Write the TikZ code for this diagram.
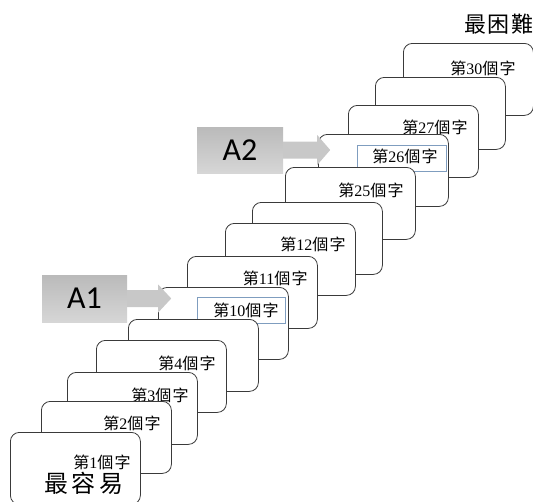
\documentclass[tikz,border=0pt]{standalone}
\usepackage{fontspec}
\setmainfont{Liberation Serif}
\newfontfamily\cjk[LetterSpace=8]{Noto Sans CJK TC}
\newfontfamily\cjkplain{Noto Sans CJK TC}
\newfontfamily\carl{Carlito}
\newcommand\lbl[1]{{\cjk 第}#1{\cjk 個字}}
\definecolor{cardline}{HTML}{3A3A3A}
\definecolor{frameblue}{HTML}{7F9DBF}
\definecolor{arrowgray}{HTML}{C8C8C8}
\begin{document}
\begin{tikzpicture}[x=1pt,y=-1pt,
  card/.style={draw=cardline, line width=0.8pt, rounded corners=9pt, fill=white,
    minimum width=130pt, minimum height=72pt, inner sep=0pt, anchor=north west},
  lab/.style={anchor=east, font=\fontsize{16}{16}\selectfont, inner sep=0pt},
  labframe/.style={draw=frameblue, line width=0.7pt, fill=white, anchor=north east,
    minimum height=26pt, inner sep=0pt},
  abox/.style={top color=black!27, bottom color=black!16, draw=none,
    minimum width=86pt, minimum height=46pt, inner sep=0pt,
    font=\carl\fontsize{32}{32}\selectfont},
  big/.style={font=\cjkplain\fontsize{22}{22}\selectfont, inner sep=0pt}]
\useasboundingbox (0,0) rectangle (533,501);
\clip (0,0) rectangle (533,501);
% cards, back to front
\node[card] (c30) at (403,43) {};
\node[lab] (t30) at ([xshift=-18pt,yshift=-25pt]c30.north east) {\lbl{30}};
\node[card] (cb3) at (375,77) {};
\node[card] (c27) at (348,105) {};
\node[lab] (t27) at ([xshift=-11pt,yshift=-22pt]c27.north east) {\lbl{27}};
\node[card] (c26) at (318,134) {};
\node[labframe, minimum width=89pt] (f26) at ([xshift=-2pt,yshift=-11pt]c26.north east) {};
\node[lab] (t26) at ([xshift=-11pt,yshift=-22pt]c26.north east) {\lbl{26}};
\node[card] (c25) at (285,167) {};
\node[lab] (t25) at ([xshift=-12pt,yshift=-23pt]c25.north east) {\lbl{25}};
\node[card] (cb2) at (252,202) {};
\node[card] (c12) at (225,223) {};
\node[lab] (t12) at ([xshift=-10pt,yshift=-21pt]c12.north east) {\lbl{12}};
\node[card] (c11) at (187,256) {};
\node[lab] (t11) at ([xshift=-10pt,yshift=-22pt]c11.north east) {\lbl{11}};
\node[card] (c10) at (158,287) {};
\node[labframe, minimum width=88pt] (f10) at ([xshift=-3pt,yshift=-10pt]c10.north east) {};
\node[lab] (t10) at ([xshift=-10pt,yshift=-23pt]c10.north east) {\lbl{10}};
\node[card] (cb1) at (128,319) {};
\node[card] (c4) at (96,340) {};
\node[lab] (t4) at ([xshift=-11pt,yshift=-23pt]c4.north east) {\lbl{4}};
\node[card] (c3) at (67,372) {};
\node[lab] (t3) at ([xshift=-9pt,yshift=-23pt]c3.north east) {\lbl{3}};
\node[card] (c2) at (41,401) {};
\node[lab] (t2) at ([xshift=-11pt,yshift=-22pt]c2.north east) {\lbl{2}};
\node[card] (c1) at (10,432) {};
\node[lab] (t1) at ([xshift=-10pt,yshift=-30pt]c1.north east) {\lbl{1}};
\node[big, font=\cjkplain\fontsize{24}{24}\selectfont] (easy) at (84,483) {最\hspace{4pt}容\hspace{4pt}易};
\node[big] (hard) at (499,24) {最\hspace{2pt}困\hspace{2pt}難};
% A boxes and arrows
\node[abox] (a2) at (240,150) {A2};
\fill[arrowgray] ([yshift=8.5pt]a2.east) -- ++(34,0) -- ++(0,-6.5) -- ++(13,15)
  -- ++(-13,15) -- ++(0,-6.5) -- ++(-34,0) -- cycle;
\node[abox, minimum width=85pt, minimum height=47pt] (a1) at (84.5,298.5) {A1};
\fill[arrowgray] ([yshift=8.5pt]a1.east) -- ++(31,0) -- ++(0,-5.5) -- ++(13,14)
  -- ++(-13,14) -- ++(0,-5.5) -- ++(-31,0) -- cycle;
\end{tikzpicture}
\end{document}
